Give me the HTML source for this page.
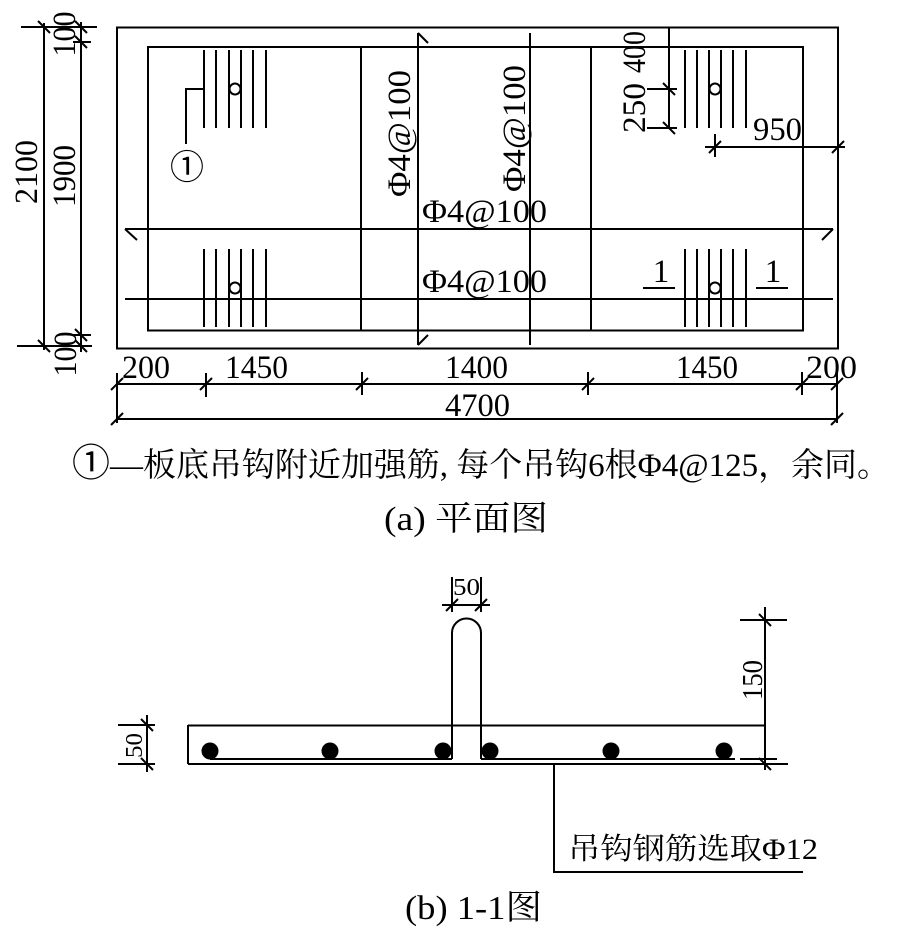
<!DOCTYPE html>
<html>
<head>
<meta charset="utf-8">
<style>
html,body{margin:0;padding:0;background:#fff;}
svg{display:block;}
text{font-family:"Liberation Serif","Noto Serif CJK SC",serif;fill:#000;}
.c{font-family:"Noto Sans CJK SC","Noto Serif CJK SC",sans-serif;}
</style>
</head>
<body>
<svg width="900" height="947" viewBox="0 0 900 947" xmlns="http://www.w3.org/2000/svg">
<g stroke="#000" stroke-width="2" fill="none">
  <rect x="117" y="27.5" width="721" height="321"/>
  <rect x="148" y="47" width="655" height="283.5"/>
  <line x1="361" y1="47" x2="361" y2="330"/>
  <line x1="591" y1="47" x2="591" y2="330"/>
  <line x1="418" y1="33" x2="418" y2="345"/>
  <line x1="418" y1="33" x2="428" y2="43"/>
  <line x1="418" y1="345" x2="428" y2="335"/>
  <line x1="530" y1="33" x2="530" y2="345"/>
  <line x1="125" y1="229" x2="833" y2="229"/>
  <line x1="125" y1="229" x2="137" y2="240"/>
  <line x1="833" y1="229" x2="822" y2="240"/>
  <line x1="125" y1="299" x2="833" y2="299"/>

  <path d="M204 50V128M216 50V128M229 50V128M241 50V128M253 50V128M266 50V128"/>
  <path d="M204 249V327M216 249V327M229 249V327M241 249V327M253 249V327M266 249V327"/>
  <path d="M685 50V128M697 50V128M709 50V128M721 50V128M733 50V128M746 50V128"/>
  <path d="M685 249V327M697 249V327M709 249V327M721 249V327M733 249V327M746 249V327"/>
  <circle cx="235" cy="89" r="5.5" fill="#fff"/>
  <circle cx="235" cy="288" r="5.5" fill="#fff"/>
  <circle cx="715" cy="89" r="5.5" fill="#fff"/>
  <circle cx="715" cy="288" r="5.5" fill="#fff"/>
  <polyline points="204,89 186,89 186,144"/>

  <line x1="643" y1="288" x2="675" y2="288"/>
  <line x1="756" y1="288" x2="788" y2="288"/>

  <line x1="44" y1="23" x2="44" y2="350"/>
  <line x1="81" y1="22" x2="81" y2="352"/>
  <line x1="21" y1="27" x2="97" y2="27"/>
  <line x1="17" y1="346" x2="92" y2="346"/>
  <line x1="73" y1="42" x2="91" y2="42"/>
  <line x1="73" y1="335" x2="91" y2="335"/>
  <path d="M38 21L50 33M75 21L87 33M75 36L87 48M38 340L50 352M75 329L87 341M75 340L87 352"/>

  <line x1="117" y1="384" x2="837" y2="384"/>
  <line x1="117" y1="419" x2="837" y2="419"/>
  <line x1="117" y1="373" x2="117" y2="423"/>
  <line x1="837" y1="372" x2="837" y2="423"/>
  <path d="M206 373V397M362 372V395M588 372V395M802 372V395"/>
  <path d="M111 390L123 378M200 390L212 378M356 390L368 378M582 390L594 378M796 390L808 378M831 390L843 378M111 425L123 413M831 425L843 413"/>

  <line x1="669" y1="28" x2="669" y2="128"/>
  <line x1="647" y1="89" x2="677" y2="89"/>
  <line x1="647" y1="128" x2="677" y2="128"/>
  <path d="M663 83L675 95M663 122L675 134"/>
  <line x1="705" y1="147" x2="845" y2="147"/>
  <line x1="715" y1="134" x2="715" y2="157"/>
  <path d="M709 153L721 141M832 153L844 141"/>

  <line x1="188" y1="725.5" x2="765" y2="725.5"/>
  <line x1="188" y1="725" x2="188" y2="764"/>
  <line x1="188" y1="764" x2="788" y2="764"/>
  <line x1="210" y1="759" x2="452" y2="759"/>
  <line x1="481" y1="759" x2="735" y2="759"/>
  <line x1="740" y1="759" x2="777" y2="759"/>
  <path d="M452 759 L452 633 A14.5 14.5 0 0 1 481 633 L481 759"/>
  <line x1="442" y1="605" x2="490" y2="605"/>
  <path d="M452 577V612M481 577V612M446 611L458 599M475 611L487 599"/>
  <line x1="147" y1="715" x2="147" y2="772"/>
  <line x1="118" y1="725" x2="155" y2="725"/>
  <line x1="118" y1="764" x2="155" y2="764"/>
  <path d="M141 719L153 731M141 758L153 770"/>
  <line x1="765" y1="607" x2="765" y2="770"/>
  <line x1="740" y1="620" x2="787" y2="620"/>
  <path d="M759 614L771 626M759 758L771 770"/>
  <polyline points="554,764 554,872 803,872"/>
</g>
<g fill="#000">
  <circle cx="210" cy="751" r="8.5"/>
  <circle cx="330" cy="751" r="8.5"/>
  <circle cx="443" cy="751" r="8.5"/>
  <circle cx="490" cy="751" r="8.5"/>
  <circle cx="611" cy="751" r="8.5"/>
  <circle cx="724" cy="751" r="8.5"/>
</g>

<g font-size="33">
  <text transform="translate(75,34) rotate(-90)" text-anchor="middle" textLength="45" lengthAdjust="spacingAndGlyphs">100</text>
  <text transform="translate(75,176) rotate(-90)" text-anchor="middle" textLength="62" lengthAdjust="spacingAndGlyphs">1900</text>
  <text transform="translate(37,172) rotate(-90)" text-anchor="middle" textLength="64" lengthAdjust="spacingAndGlyphs">2100</text>
  <text transform="translate(76,354) rotate(-90)" text-anchor="middle" textLength="45" lengthAdjust="spacingAndGlyphs">100</text>
  <text transform="translate(645,52) rotate(-90)" text-anchor="middle" textLength="42" lengthAdjust="spacingAndGlyphs">400</text>
  <text transform="translate(645,108) rotate(-90)" text-anchor="middle" textLength="50" lengthAdjust="spacingAndGlyphs">250</text>
  <text x="753" y="140" textLength="49" lengthAdjust="spacingAndGlyphs">950</text>
  <text transform="translate(410,133.5) rotate(-90)" text-anchor="middle" textLength="127" lengthAdjust="spacingAndGlyphs">Φ4@100</text>
  <text transform="translate(525,128.5) rotate(-90)" text-anchor="middle" textLength="127" lengthAdjust="spacingAndGlyphs">Φ4@100</text>
  <text x="422" y="222" textLength="125" lengthAdjust="spacingAndGlyphs">Φ4@100</text>
  <text x="422" y="292" textLength="125" lengthAdjust="spacingAndGlyphs">Φ4@100</text>
  <text x="661" y="282" text-anchor="middle">1</text>
  <text x="773" y="282" text-anchor="middle">1</text>
  <text class="c" x="187" y="179" text-anchor="middle" font-size="34">①</text>
  <text x="122" y="378" textLength="48" lengthAdjust="spacingAndGlyphs">200</text>
  <text x="225" y="378" textLength="63" lengthAdjust="spacingAndGlyphs">1450</text>
  <text x="445" y="378" textLength="63" lengthAdjust="spacingAndGlyphs">1400</text>
  <text x="676" y="378" textLength="62" lengthAdjust="spacingAndGlyphs">1450</text>
  <text x="806" y="378" textLength="51" lengthAdjust="spacingAndGlyphs">200</text>
  <text x="445" y="416" textLength="65" lengthAdjust="spacingAndGlyphs">4700</text>
</g>

<text x="72" y="476" font-size="33" textLength="818" lengthAdjust="spacingAndGlyphs"><tspan class="c" font-size="38">①</tspan>—板底吊钩附近加强筋, 每个吊钩6根Φ4@125，余同。</text>
<text x="384" y="530" font-size="34" textLength="164" lengthAdjust="spacingAndGlyphs">(a) 平面图</text>

<text x="453" y="595" font-size="24" textLength="27" lengthAdjust="spacingAndGlyphs">50</text>
<text transform="translate(142,745.5) rotate(-90)" text-anchor="middle" font-size="24" textLength="25" lengthAdjust="spacingAndGlyphs">50</text>
<text transform="translate(762,680) rotate(-90)" text-anchor="middle" font-size="29" textLength="40" lengthAdjust="spacingAndGlyphs">150</text>
<text x="568" y="859" font-size="30" textLength="250" lengthAdjust="spacingAndGlyphs">吊钩钢筋选取Φ12</text>

<text x="405" y="919" font-size="34" textLength="137" lengthAdjust="spacingAndGlyphs">(b) 1-1图</text>
</svg>
</body>
</html>
